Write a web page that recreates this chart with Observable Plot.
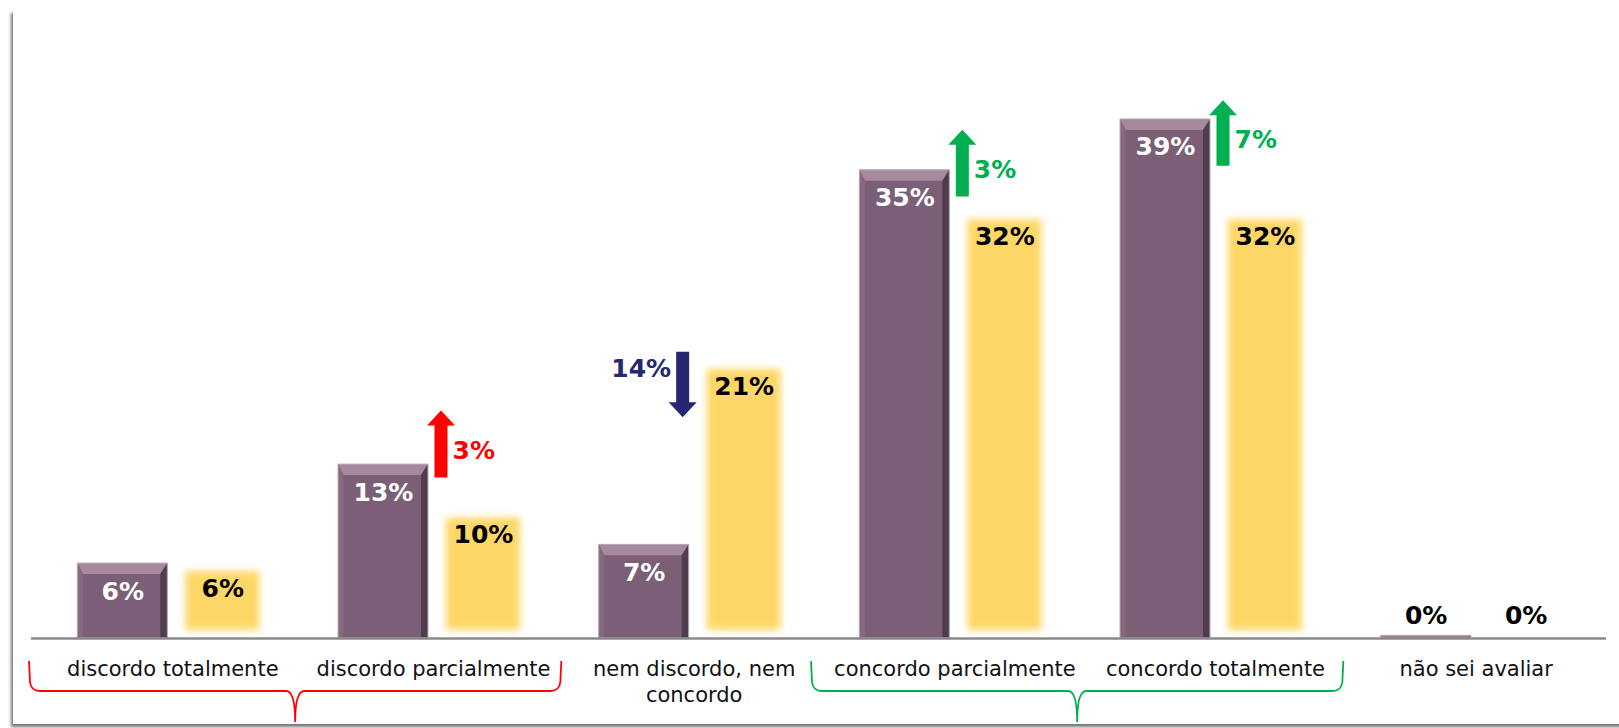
<!DOCTYPE html>
<html><head><meta charset="utf-8">
<script src="https://cdn.jsdelivr.net/npm/d3@7"></script>
<script src="https://cdn.jsdelivr.net/npm/@observablehq/plot@0.6"></script>
<style>
html,body{margin:0;padding:0;background:#fff;width:1619px;height:728px;overflow:hidden;}
#frame{position:absolute;left:13px;top:10px;width:1660px;height:714px;background:#fff;box-shadow:-2px 3px 3px rgba(0,0,0,0.55);}
#chart{position:absolute;left:0;top:0;}
</style></head><body>
<div id="frame"></div>
<div id="chart"></div>
<script>
// ---- data ----
const categories = ["discordo totalmente", "discordo parcialmente", "nem discordo, nem concordo", "concordo parcialmente", "concordo totalmente", "não sei avaliar"];
const tickLabels = ["discordo totalmente", "discordo parcialmente", "nem discordo, nem\nconcordo", "concordo parcialmente", "concordo totalmente", "não sei avaliar"];
const currentValues = [5.6, 13.0, 7.0, 35.0, 38.8, 0.2];   // purple bars (%)
const previousValues = [5.6, 9.6, 20.7, 31.9, 31.9, 0.0];  // yellow bars (%)
// change arrows (annotation values, in % units)
const arrowCategories = ["discordo parcialmente", "nem discordo, nem concordo", "concordo parcialmente", "concordo totalmente"];
const arrowBase = [12.0, 21.4, 33.0, 35.3];
const arrowTip = [17.0, 16.5, 38.0, 40.2];
const arrowTone = ["negative", "neutral", "positive", "positive"];
// braces grouping categories
const groupFrom = ["discordo totalmente", "concordo parcialmente"];
const groupTo = ["discordo parcialmente", "concordo totalmente"];
const groupTone = ["negative", "positive"];

// ---- styles ----
const toneColor = {negative: "#ff0000", neutral: "#262671", positive: "#00b050"};
const PURPLE = "#7b5f76", YELLOW = "#fdd766";
const W = 1619, H = 728, mL = 42, mR = 13, mT = 36, mB = 90;
const bw = (W - mL - mR) / categories.length;
const BAR_W = 90, GAP = 10, SOFT = 8;
const padL = (bw - 2 * BAR_W - GAP) / 2;
const UP_DX = 8, DOWN_DX = -11;

const bars = categories.map((cat, i) => ({cat, cur: currentValues[i], prev: previousValues[i]}));
const arrows = arrowCategories.map((cat, i) => {
  const j = categories.indexOf(cat);
  const change = Math.round(currentValues[j]) - Math.round(previousValues[j]);
  const dir = change > 0 ? "up" : "down";
  const frac = dir === "up" ? 0.4 : 0.26;
  return {cat, base: arrowBase[i], tip: arrowTip[i], dir, label: Math.abs(change) + "%",
          color: toneColor[arrowTone[i]], labelY: arrowBase[i] + (arrowTip[i] - arrowBase[i]) * frac};
});
const groups = groupFrom.map((from, i) => ({from, to: groupTo[i], color: toneColor[groupTone[i]]}));

function bevels(index, {x, y}) {
  const g = d3.create("svg:g");
  for (const d of bars) {
    const x0 = x(d.cat) + padL, x1 = x0 + BAR_W;
    const yt = y(d.cur), yb = y(0);
    const h = yb - yt;
    const b = Math.min(11, h / 2), r = Math.min(7, h / 2);
    g.append("path").attr("fill", "#a48a9c")
      .attr("d", `M${x0},${yt}L${x1},${yt}L${x1 - r},${yt + b}L${x0 + b * 0.5},${yt + b}Z`);
    g.append("path").attr("fill", "#4f3c4c")
      .attr("d", `M${x1},${yt}L${x1},${yb}L${x1 - r},${yb}L${x1 - r},${yt + b}Z`);
    g.append("path").attr("fill", "#86697f")
      .attr("d", `M${x0},${yt}L${x0 + b * 0.5},${yt + b}L${x0 + b * 0.5},${yb}L${x0},${yb}Z`);
    g.append("rect").attr("x", x0).attr("y", yt).attr("width", BAR_W).attr("height", h)
      .attr("fill", "none").attr("stroke", "#b9adb6").attr("stroke-width", 1);
  }
  return g.node();
}

function arrowMarks(index, {x, y}) {
  const g = d3.create("svg:g");
  for (const d of arrows) {
    const cx = x(d.cat) + bw / 2 + (d.dir === "up" ? UP_DX : DOWN_DX);
    const yTail = y(d.base), yTip = y(d.tip);
    const s = Math.sign(yTip - yTail);
    const headLen = 15, sh = 6.5, hh = 14;
    const yNeck = yTip - s * headLen;
    g.append("path").attr("fill", d.color)
      .attr("d", `M${cx - sh},${yTail}L${cx - sh},${yNeck}L${cx - hh},${yNeck}L${cx},${yTip}L${cx + hh},${yNeck}L${cx + sh},${yNeck}L${cx + sh},${yTail}Z`);
  }
  return g.node();
}

function braces(index, {x, y}) {
  const g = d3.create("svg:g");
  const base = y(0);
  for (const d of groups) {
    const x0 = x(d.from) - 13, x1 = x(d.to) + bw - 2;
    const mid = (x0 + x1) / 2;
    const top = base + 23, hy = base + 53, bot = base + 84, r = 9, c = 9;
    g.append("path").attr("fill", "none").attr("stroke", d.color).attr("stroke-width", 1.8)
      .attr("d", `M${x0},${top}L${x0 + 1},${hy - r}Q${x0 + 2},${hy} ${x0 + r + 2},${hy}L${mid - c},${hy}Q${mid},${hy} ${mid},${bot}Q${mid},${hy} ${mid + c},${hy}L${x1 - r - 2},${hy}Q${x1 - 2},${hy} ${x1 - 1},${hy - r}L${x1},${top}`);
  }
  return g.node();
}

const labelStyle = {fontWeight: "bold", fontSize: 25, lineAnchor: "middle"};

const plot = Plot.plot({
  width: W, height: H,
  marginLeft: mL, marginRight: mR, marginTop: mT, marginBottom: mB,
  style: {background: "transparent", fontFamily: "DejaVu Sans, Verdana, sans-serif", color: "#111"},
  x: {domain: categories, padding: 0, round: false, axis: null},
  y: {domain: [0, 45], axis: null},
  color: {type: "identity"},
  marks: [
    Plot.barY(bars, {x: "cat", y: "cur", fill: PURPLE, insetLeft: padL, insetRight: bw - padL - BAR_W}),
    bevels,
    Plot.barY(bars, {x: "cat", y: "prev", fill: YELLOW, ariaDescription: "previous-soft",
      insetLeft: padL + BAR_W + GAP + SOFT, insetRight: padL + SOFT, insetTop: SOFT, insetBottom: SOFT}),
    Plot.ruleY([0], {stroke: "#8a8a8a", strokeWidth: 2.5, insetLeft: -11}),
    Plot.axisX({tickSize: 0, tickPadding: 19, fontSize: 21, lineHeight: 1.25, label: null,
      tickFormat: d => tickLabels[categories.indexOf(d)]}),
    // value labels
    Plot.text(bars.filter(d => d.cur >= 1), {x: "cat", y: "cur", text: d => Math.round(d.cur) + "%", dx: -(BAR_W + GAP) / 2, dy: 28,
      fill: "white", ...labelStyle}),
    Plot.text(bars.filter(d => d.prev >= 1), {x: "cat", y: "prev", text: d => Math.round(d.prev) + "%", dx: (BAR_W + GAP) / 2, dy: 25,
      fill: "black", ...labelStyle}),
    Plot.text(bars.filter(d => d.cur < 1), {x: "cat", y: "cur", text: d => Math.round(d.cur) + "%", dx: -(BAR_W + GAP) / 2, dy: -20,
      fill: "black", ...labelStyle}),
    Plot.text(bars.filter(d => d.prev < 1), {x: "cat", y: "prev", text: d => Math.round(d.prev) + "%", dx: (BAR_W + GAP) / 2, dy: -23,
      fill: "black", ...labelStyle}),
    arrowMarks,
    Plot.text(arrows.filter(d => d.dir === "up"), {x: "cat", y: "labelY", text: "label", fill: "color", textAnchor: "start",
      dx: UP_DX + 11, ...labelStyle}),
    Plot.text(arrows.filter(d => d.dir === "down"), {x: "cat", y: "labelY", text: "label", fill: "color", textAnchor: "end",
      dx: DOWN_DX - 12, ...labelStyle}),
    braces
  ]
});

document.getElementById("chart").append(plot);
const svg = d3.select(plot);
svg.insert("defs", ":first-child").html(
  `<filter id="softEdge" x="-0.2" y="-0.2" width="1.4" height="1.4"><feGaussianBlur stdDeviation="3.5"/></filter>`);
let soft = svg.selectAll('g[aria-description="previous-soft"]');
if (soft.empty()) soft = svg.selectAll(`g[fill="${YELLOW}"]`);
soft.attr("filter", "url(#softEdge)");
</script>
</body></html>
